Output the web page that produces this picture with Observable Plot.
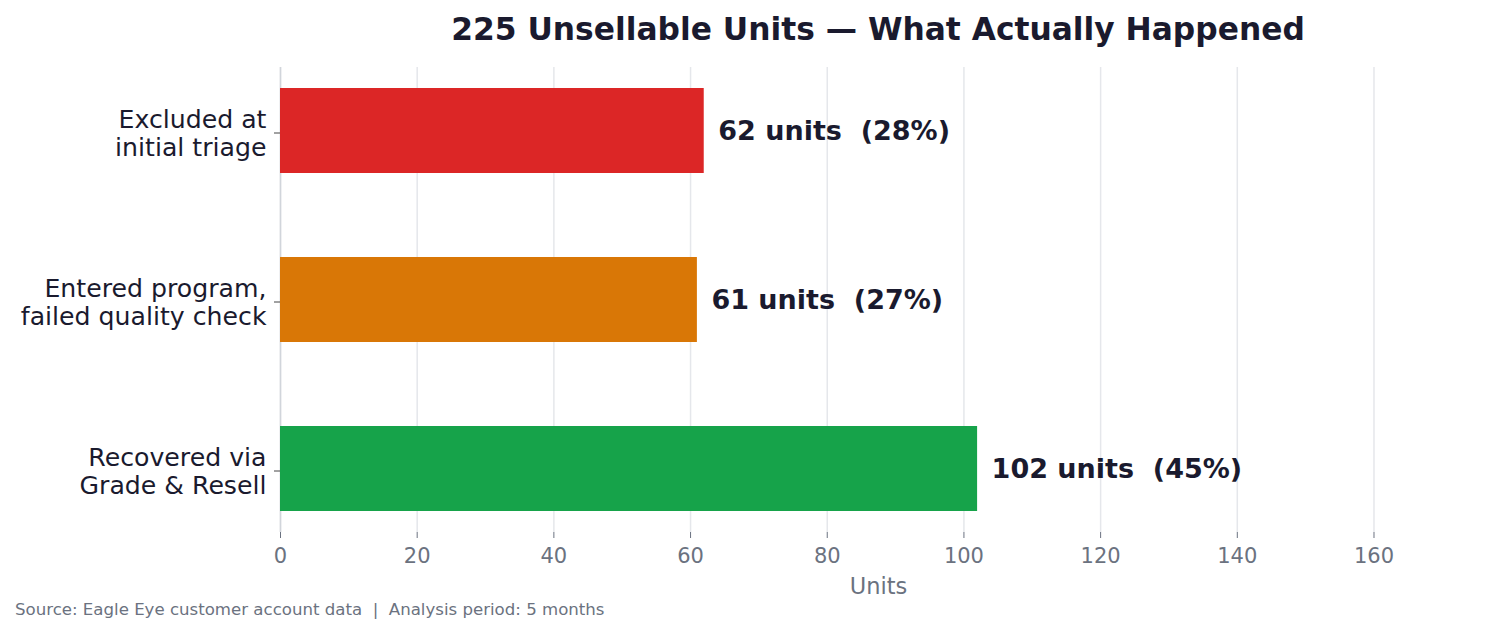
<!DOCTYPE html>
<html>
<head>
<meta charset="utf-8">
<script src="https://cdn.jsdelivr.net/npm/d3@7"></script>
<script src="https://cdn.jsdelivr.net/npm/@observablehq/plot@0.6"></script>
<style>
  body { margin: 0; background: #fff; font-family: "DejaVu Sans", sans-serif; }
  #wrap { width: 1492px; }
  #title { height: 50px; box-sizing: border-box; padding-top: 11px; line-height: 36px;
           margin-left: 280px; width: 1196px; text-align: center;
           font: bold 31.3px "DejaVu Sans", sans-serif; color: #1a1a2e; white-space: nowrap; }
  #caption { height: 34px; line-height: 18px; padding-left: 15px;
             font: 16.6px "DejaVu Sans", sans-serif; color: #6b7280; white-space: pre; }
  .barlabels text { white-space: pre; }
</style>
</head>
<body>
<div id="wrap">
  <div id="title">225 Unsellable Units — What Actually Happened</div>
  <div id="chart"></div>
  <div id="caption">Source: Eagle Eye customer account data  |  Analysis period: 5 months</div>
</div>
<script>
const categories = ["Excluded at\ninitial triage", "Entered program,\nfailed quality check", "Recovered via\nGrade & Resell"];
const units = [62, 61, 102];
const percents = [28, 27, 45];
const colors = ["#dc2626", "#d97706", "#16a34a"];
const xTicks = [0, 20, 40, 60, 80, 100, 120, 140, 160];
const xLabel = "Units";

const data = categories.map((c, i) => ({category: c, units: units[i], pct: percents[i]}));

const chart = Plot.plot({
  width: 1492,
  height: 550,
  marginTop: 17,
  marginBottom: 68,
  marginLeft: 280,
  marginRight: 16,
  style: {fontFamily: "DejaVu Sans, sans-serif", background: "#fff"},
  x: {domain: [0, 175], ticks: xTicks},
  y: {domain: categories, paddingInner: 0.5, paddingOuter: 0.125},
  color: {domain: categories, range: colors},
  marks: [
    Plot.gridX(xTicks, {stroke: "#e5e7eb", strokeOpacity: 1, strokeWidth: 1.5}),
    Plot.ruleX([0], {stroke: "#d1d5db", strokeWidth: 1.5}),
    Plot.barX(data, {y: "category", x: "units", fill: "category"}),
    Plot.text(data, {
      y: "category", x: "units", dx: 14, textAnchor: "start",
      text: d => `${d.units} units  (${d.pct}%)`,
      fontSize: 27, fontWeight: "bold", fill: "#1a1a2e", className: "barlabels"
    }),
    Plot.axisX(xTicks, {
      tickSize: 6, tickPadding: 10, fontSize: 21, color: "#6b7280", stroke: "#6b7280",
      label: null
    }),
    Plot.text([xLabel], {frameAnchor: "bottom", dy: 61, fontSize: 22.5, fill: "#6b7280"}),
    Plot.axisY({
      tickSize: 6, tickPadding: 8, fontSize: 25.2, fill: "#1a1a2e", stroke: "#444",
      lineHeight: 1.1, dy: 2, label: null
    })
  ]
});
document.getElementById("chart").appendChild(chart);
</script>
</body>
</html>
